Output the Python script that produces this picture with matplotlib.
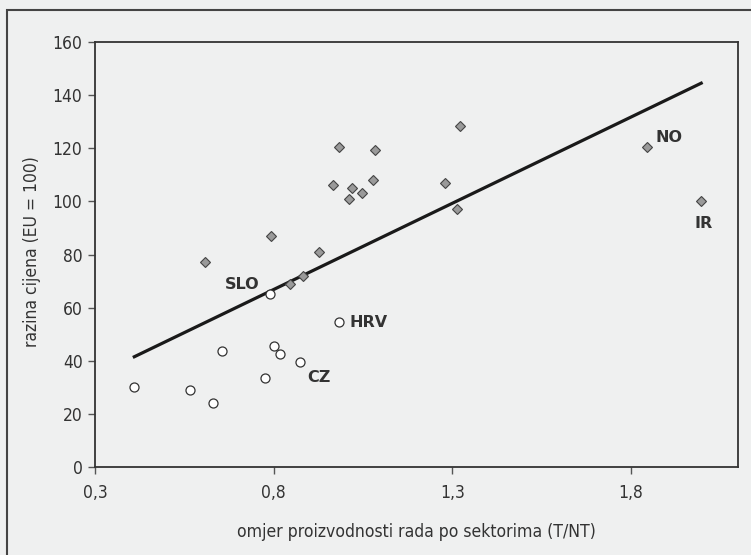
import matplotlib
matplotlib.use('Agg')
import matplotlib.pyplot as plt
from matplotlib.patches import Rectangle

# countries with high price level (diamonds)
hi_x = [0.607, 0.793, 0.847, 0.882, 0.928, 0.967, 0.982, 1.010, 1.019, 1.048,
        1.079, 1.084, 1.281, 1.313, 1.321, 1.845, 1.996]
hi_y = [77, 87, 69, 72, 81, 106, 120.5, 101, 105, 103,
        108, 119.5, 107, 97, 128.5, 120.5, 100]

# transition countries (circles)
lo_x = [0.409, 0.567, 0.630, 0.655, 0.775, 0.790, 0.801, 0.819, 0.875, 0.982]
lo_y = [30, 29, 24, 43.5, 33.5, 65, 45.5, 42.5, 39.5, 54.5]

# trend line
trend_x = [0.41, 1.997]
trend_y = [41.5, 144.5]

# labelled points
lab_names = ['SLO', 'HRV', 'CZ', 'NO', 'IR']
lab_x = [0.790, 0.982, 0.875, 1.845, 1.996]
lab_y = [65, 54.5, 39.5, 120.5, 100]

xticks = [0.3, 0.8, 1.3, 1.8]
xticklabels = ['0,3', '0,8', '1,3', '1,8']
yticks = [0, 20, 40, 60, 80, 100, 120, 140, 160]

bg = '#eff0f0'
dark = '#333333'
plt.rcParams['font.family'] = ['DejaVu Sans']
plt.rcParams['font.stretch'] = 'condensed'

fig = plt.figure(figsize=(7.51, 5.55), dpi=100, facecolor=bg)
ax = fig.add_axes([95/751, 1-467/555, (738-95)/751, (467-42)/555])
ax.set_facecolor(bg)

# outer frame (cropped on right and bottom)
fig.patches.append(Rectangle((7/751, -0.05), 1.0, 1-10/555+0.05, transform=fig.transFigure,
                             fill=False, edgecolor='#444444', linewidth=1.5))

ax.plot(trend_x, trend_y, color='#1a1a1a', linewidth=2.3, zorder=2)
ax.plot(hi_x, hi_y, 'D', markersize=5.3, markerfacecolor='#9a9a9a',
        markeredgecolor='#444444', markeredgewidth=0.8, zorder=3)
ax.plot(lo_x, lo_y, 'o', markersize=6.5, markerfacecolor='white',
        markeredgecolor='#333333', markeredgewidth=0.9, zorder=3)

# label offsets in points
offsets = {'SLO': (-20, 7), 'HRV': (8, 0), 'CZ': (5, -11), 'NO': (6, 7), 'IR': (2, -16)}
aligns = {'SLO': 'center', 'HRV': 'left', 'CZ': 'left', 'NO': 'left', 'IR': 'center'}
for name, x, y in zip(lab_names, lab_x, lab_y):
    ax.annotate(name, (x, y), xytext=offsets[name], textcoords='offset points',
                ha=aligns[name], va='center', fontsize=11.5, fontweight='bold',
                color=dark, fontstretch='normal')

ax.set_xlim(0.3, 2.1)
ax.set_ylim(0, 160)
ax.set_xticks(xticks)
ax.set_xticklabels(xticklabels)
ax.set_yticks(yticks)
ax.tick_params(direction='out', length=5, width=1, colors='#555555', labelcolor=dark,
               labelsize=12.5, pad=4)
ax.tick_params(axis='x', pad=7)
for s in ax.spines.values():
    s.set_color(dark)
    s.set_linewidth(1.3)

ax.set_xlabel('omjer proizvodnosti rada po sektorima (T/NT)', fontsize=12.6, color=dark)
ax.set_ylabel('razina cijena (EU = 100)', fontsize=12.5, color=dark)
ax.xaxis.set_label_coords(0.5, -(532-467)/425, transform=ax.transAxes)
ax.yaxis.set_label_coords((32-95)/643, (467-252)/425, transform=ax.transAxes)
ax.xaxis.label.set_va('center')
ax.yaxis.label.set_va('center')

plt.savefig('out.png', dpi=100, facecolor=bg)
